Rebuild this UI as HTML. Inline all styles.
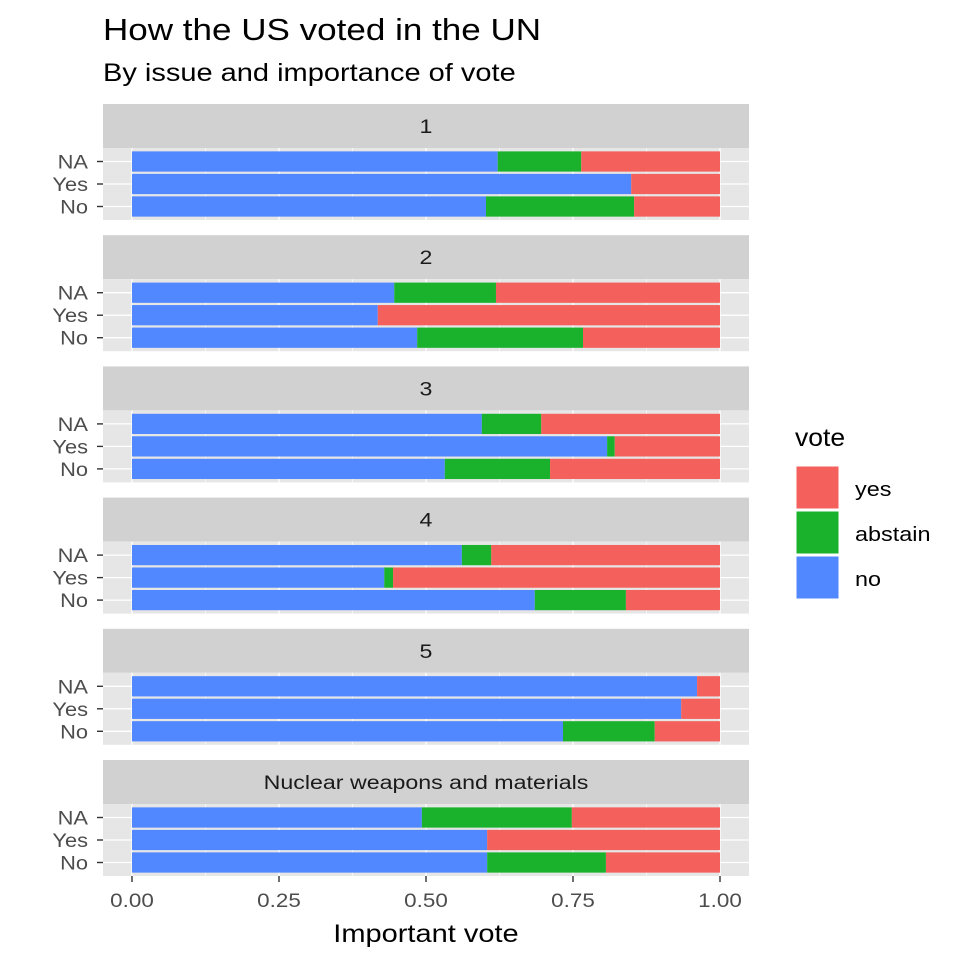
<!DOCTYPE html>
<html><head><meta charset="utf-8"><style>
body{margin:0;background:#fff;font-family:"Liberation Sans",Arial,sans-serif}
</style></head><body>
<svg id="c" width="960" height="960" xmlns="http://www.w3.org/2000/svg" font-family="Liberation Sans, Arial, sans-serif">
<text x="103" y="40" font-size="31" fill="#000" data-stretch="1.13">How the US voted in the UN</text>
<text x="103" y="81" font-size="25" fill="#000" data-stretch="1.16">By issue and importance of vote</text>
<g id="panels"></g>
<text x="426" y="942" font-size="25" text-anchor="middle" fill="#000" data-stretch="1.16">Important vote</text>
<g>
<text x="795" y="446" font-size="25" fill="#000" data-stretch="1.06">vote</text>
<rect x="796" y="466" width="43" height="43" fill="#F4605B" stroke="#fff"/>
<rect x="796" y="511" width="43" height="43" fill="#1AB22C" stroke="#fff"/>
<rect x="796" y="556" width="43" height="43" fill="#5187FF" stroke="#fff"/>
<text x="855" y="496" font-size="20" fill="#000" data-stretch="1.17">yes</text>
<text x="855" y="541" font-size="20" fill="#000" data-stretch="1.17">abstain</text>
<text x="855" y="586" font-size="20" fill="#000" data-stretch="1.17">no</text>
</g>
</svg>
<script>
const facets=["1","2","3","4","5","Nuclear weapons and materials"];
const categories=["NA","Yes","No"];
// per facet, per category [NA,Yes,No]: share of "no", "abstain"; rest is "yes"
const noShare=[[0.622,0.849,0.602],[0.446,0.418,0.485],[0.595,0.808,0.532],[0.561,0.429,0.685],[0.961,0.934,0.733],[0.493,0.604,0.604]];
const abstainShare=[[0.142,0,0.252],[0.173,0,0.282],[0.101,0.013,0.179],[0.050,0.015,0.155],[0,0,0.156],[0.255,0,0.202]];
const xTicks=[0,0.25,0.5,0.75,1];
const xTickLabels=["0.00","0.25","0.50","0.75","1.00"];

const NS="http://www.w3.org/2000/svg";
const g=document.getElementById('panels');
const PX=103,PW=646,X0=132,X1=720;
const sx=v=>X0+v*(X1-X0);
function mk(t,a,p){const e=document.createElementNS(NS,t);for(const k in a)e.setAttribute(k,a[k]);(p||g).appendChild(e);return e;}
const pitch=131.2,stripH=44,panH=72;
facets.forEach((f,fi)=>{
  const top=104+fi*pitch, py=top+stripH;
  const sy=i=>py+panH*(0.6+ i)/3.2;
  const strip=mk('rect',{x:PX,y:top,width:PW,height:stripH,fill:'#D1D1D1'});
  
  
  const st=mk('text',{x:PX+PW/2,y:top+stripH/2+7,'font-size':19,'text-anchor':'middle',fill:'#1A1A1A','data-stretch':'1.22'});
  st.textContent=f;
  
  
  const bg=mk('rect',{x:PX,y:py,width:PW,height:panH,fill:'#E6E6E6'});
  
  
  for(let i=0;i<4;i++){const v=0.125+i*0.25;mk('line',{x1:sx(v),x2:sx(v),y1:py,y2:py+panH,stroke:'#fff','stroke-width':0.6});}
  xTicks.forEach(v=>mk('line',{x1:sx(v),x2:sx(v),y1:py,y2:py+panH,stroke:'#fff','stroke-width':1.3}));
  categories.forEach((c,ci)=>{
    const cy=sy(ci);
    mk('line',{x1:PX,x2:PX+PW,y1:cy,y2:cy,stroke:'#fff','stroke-width':1.3});
    const n=noShare[fi][ci],a=abstainShare[fi][ci];
    const bh=panH/3.2*0.9;
    const segs=[[0,n,'#5187FF','no'],[n,n+a,'#1AB22C','abstain'],[n+a,1,'#F4605B','yes']];
    segs.forEach(s=>{if(s[1]-s[0]<=0)return;
      const r=mk('rect',{x:sx(s[0]),y:cy-bh/2,width:sx(s[1])-sx(s[0]),height:bh,fill:s[2]});
      
      
    });
    mk('line',{x1:PX-6,x2:PX,y1:cy,y2:cy,stroke:'#333','stroke-width':1.4});
    const t=mk('text',{x:88,y:cy+7,'font-size':19,'text-anchor':'end',fill:'#4D4D4D','data-stretch':'1.15'});
    t.textContent=c;
    
    
  });
  if(fi===facets.length-1){
    xTicks.forEach((v,i)=>{
      mk('line',{x1:sx(v),x2:sx(v),y1:py+panH,y2:py+panH+6,stroke:'#333','stroke-width':1.4});
      const t=mk('text',{x:sx(v),y:py+panH+31,'font-size':19,'text-anchor':'middle',fill:'#4D4D4D','data-stretch':'1.18'});
      t.textContent=xTickLabels[i];
      
      
    });
  }
});
document.querySelectorAll('text[data-stretch]').forEach(t=>{
  const k=parseFloat(t.getAttribute('data-stretch'));
  const L=t.getComputedTextLength();
  t.setAttribute('textLength',(L*k).toFixed(1));
  t.setAttribute('lengthAdjust','spacingAndGlyphs');
});
</script>
</body></html>
